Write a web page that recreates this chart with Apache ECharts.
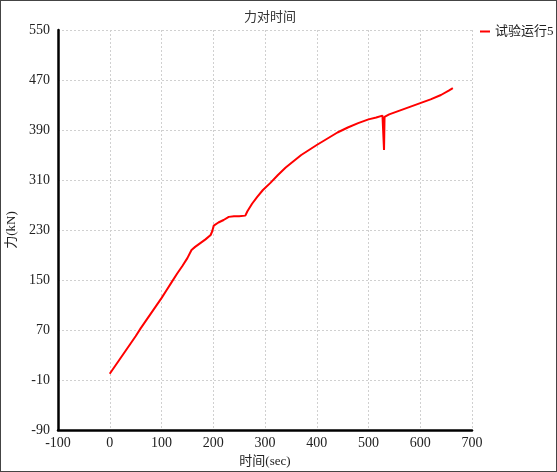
<!DOCTYPE html>
<html><head><meta charset="utf-8">
<script src="https://cdn.jsdelivr.net/npm/echarts@6/dist/echarts.min.js"></script>
<style>html,body{margin:0;padding:0;background:#fff}#c{position:absolute;left:0;top:0;width:557px;height:472px}#b{position:absolute;left:0;top:0;width:557px;height:472px;box-sizing:border-box;border:1px solid #444;pointer-events:none}</style>
</head><body><div id="c"></div><div id="b"></div>
<script>
var times = [0,10,20,30,40,50,60,70,80,90,100,110,120,130,140,150,158,165,175,185,195,198,201,210,220,230,240,250,262,266,275,285,296,310,325,340,355,370,385,400,420,440,460,480,500,515,527,529,530,531,540,560,580,600,620,640,655,663];
var forces = [0,12,24,36,48,60,73,85,97,109,121,134,147,160,172,185,198,203,209,215,222,228,237,242,246,251,252,252,253,260,272,283,294,305,318,330,340,350,358,366,376,386,394,401,407,410,413,412,358,411,415,421,427,433,439,446,453,457];
var seriesName = '试验运行5';
var titleText = '力对时间';
var xName = '时间(sec)';
var yName = '力(kN)';
var data = times.map(function(t,i){return [t, forces[i]];});
var font = '"Liberation Serif","Noto Sans CJK SC",serif';
var chart = echarts.init(document.getElementById('c'), null, {renderer:'canvas'});
chart.setOption({
  animation:false,
  title:{text:titleText,left:265,textAlign:'center',top:6,textStyle:{fontFamily:font,fontSize:13,fontWeight:'normal',color:'#333'}},
  legend:{data:[seriesName],left:480,top:25,padding:0,itemWidth:10,itemHeight:2,itemGap:4,icon:'rect',textStyle:{fontFamily:font,fontSize:13,color:'#222'}},
  grid:{left:58,right:85,top:30,bottom:42,containLabel:false,outerBoundsMode:'none'},
  xAxis:{type:'value',min:-100,max:700,interval:100,name:xName,nameLocation:'middle',nameGap:25,
    nameTextStyle:{fontFamily:font,fontSize:13,color:'#222'},
    axisLine:{show:true,onZero:false,lineStyle:{color:'#000',width:2.5}},axisTick:{show:false},
    axisLabel:{fontFamily:font,fontSize:14,color:'#222',margin:6},
    splitLine:{show:true,lineStyle:{color:'#d0d0d0',type:[2,2],width:1}}},
  yAxis:{type:'value',min:-90,max:550,interval:80,name:yName,nameLocation:'middle',nameGap:40,nameRotate:90,
    nameTextStyle:{fontFamily:font,fontSize:13,color:'#222'},
    axisLine:{show:true,onZero:false,lineStyle:{color:'#000',width:2.5}},axisTick:{show:false},
    axisLabel:{fontFamily:font,fontSize:14,color:'#222',margin:8},
    splitLine:{show:true,lineStyle:{color:'#d0d0d0',type:[2,2],width:1}}},
  series:[{name:seriesName,type:'line',data:data,showSymbol:false,symbol:'none',lineStyle:{color:'#ff0000',width:2},itemStyle:{color:'#ff0000'}}]
});
</script></body></html>
